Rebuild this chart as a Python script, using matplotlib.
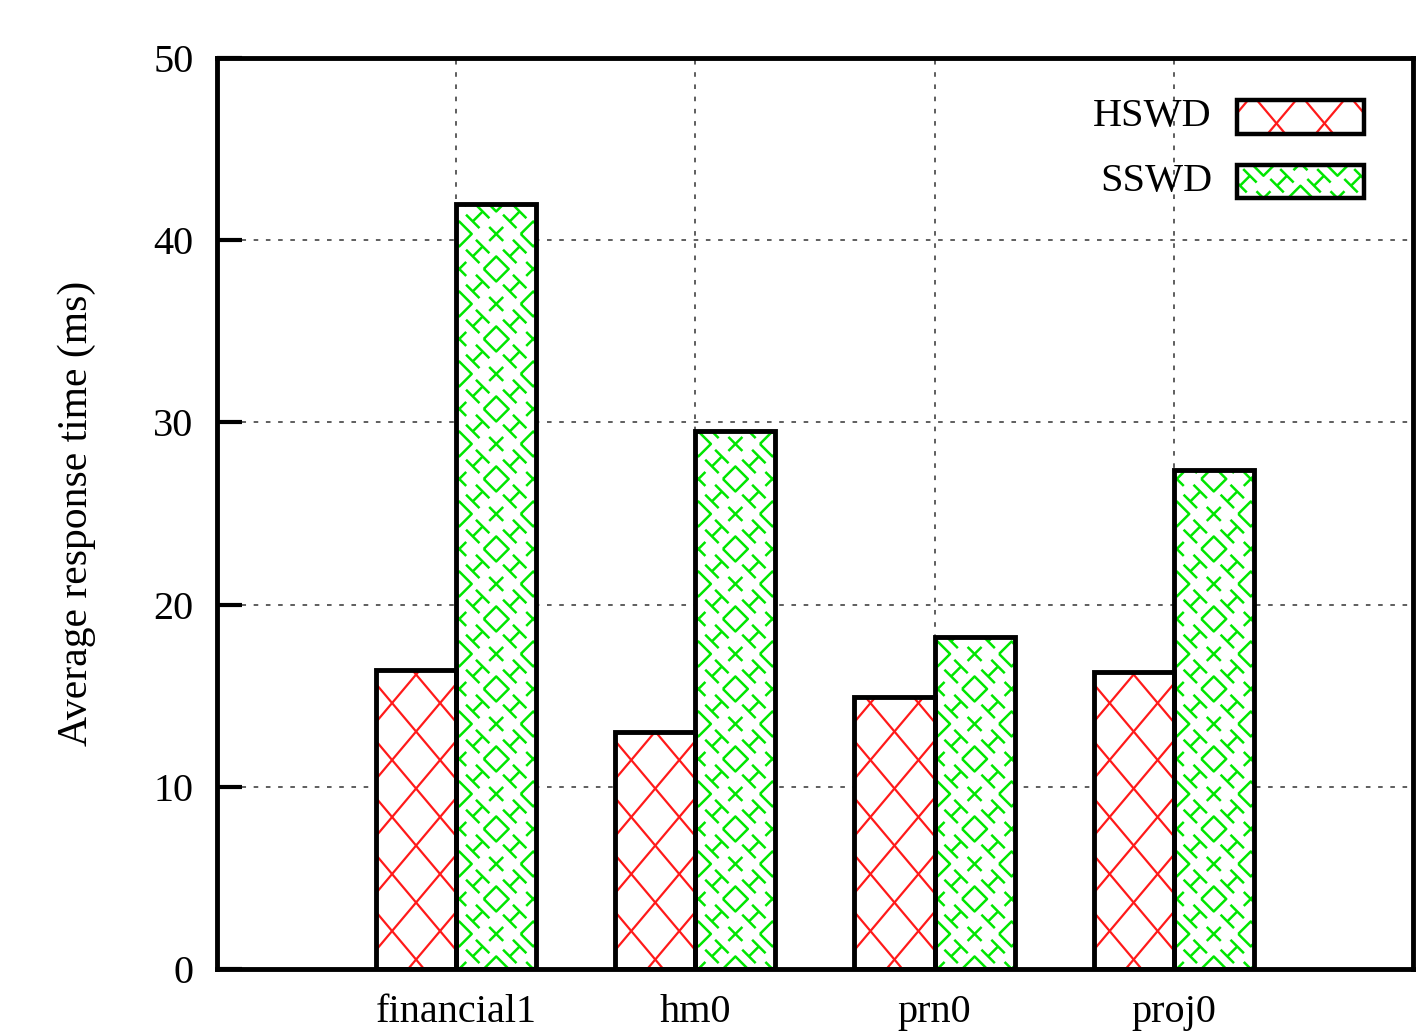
import numpy as np
import matplotlib
matplotlib.use('Agg')
import matplotlib.pyplot as plt
from matplotlib.collections import LineCollection
from matplotlib.patches import Rectangle
from matplotlib.transforms import IdentityTransform

plt.rcParams['font.family'] = ['Liberation Serif', 'DejaVu Serif']

traces = ['financial1', 'hm0', 'prn0', 'proj0']
hswd = [16.4, 13.0, 14.9, 16.3]
sswd = [42.0, 29.5, 18.2, 27.4]
series_names = ['HSWD', 'SSWD']

RED = '#ff1a1a'
GREEN = '#00e600'


def cross_segments(x0, y0, x1, y1, px=48.0, py=57.0):
    # red crosshatch: two families of slanted lines over a pixel box
    s = py / px
    w = x1 - x0
    h = y1 - y0
    segs = []
    for c in np.arange(-s * w - py, h + py, py):
        segs.append([(x0, y0 + c), (x1, y0 + c + s * w)])
    for c in np.arange(-py, h + s * w + py, py):
        segs.append([(x0, y0 + c), (x1, y0 + c - s * w)])
    return segs


def motif_segments(x0, y0, x1, y1, cx, a=18.5, b=17.5):
    # green pattern: diamonds, small crosses and slanted H shapes on a lattice
    r, q = 12.5, 7.0
    u = np.array([1.0, -1.0]) / np.sqrt(2)
    v = np.array([1.0, 1.0]) / np.sqrt(2)
    segs = []
    for i in range(int(np.floor((x0 - cx) / a)) - 2, int(np.ceil((x1 - cx) / a)) + 3):
        for j in range(-2, int(np.ceil((y1 - y0) / b)) + 3):
            x, y = cx + i * a, y0 + j * b
            if i % 2 == 0 and j % 2 == 0:
                if (i // 2 + j // 2) % 2 == 0:
                    segs.append([(x - r, y), (x, y + r), (x + r, y), (x, y - r), (x - r, y)])
                else:
                    segs.append([(x - q, y - q), (x + q, y + q)])
                    segs.append([(x - q, y + q), (x + q, y - q)])
            elif i % 2 == 1 and j % 2 == 1:
                c = np.array([x, y])
                segs.append([c - 7 * v, c + 7 * v])
                for k in (-7, 7):
                    m = c + k * v
                    segs.append([m - 9.5 * u, m + 9.5 * u])
    return segs


def add_pattern(ax, patch, kind):
    bb = patch.get_window_extent()
    if kind == 'cross':
        segs = cross_segments(bb.x0, bb.y0, bb.x1, bb.y1)
        color, lw = RED, 1.6
    else:
        segs = motif_segments(bb.x0, bb.y0, bb.x1, bb.y1, (bb.x0 + bb.x1) / 2)
        color, lw = GREEN, 1.8
    lc = LineCollection(segs, colors=color, linewidths=lw,
                        transform=IdentityTransform(), zorder=2.5)
    ax.add_collection(lc, autolim=False)
    lc.set_clip_path(patch)


fig = plt.figure(figsize=(14.18, 10.33), dpi=100)
ax = fig.add_axes([0.1530, 0.0620, 0.8434, 0.8819])
ax.set_xlim(-1, 4)
ax.set_ylim(0, 50)

x = np.arange(len(traces))
w = 0.335

b1 = ax.bar(x - w, hswd, w, align='edge', color='white', edgecolor='none', zorder=2)
b2 = ax.bar(x, sswd, w, align='edge', color='white', edgecolor='none', zorder=2)
for p in b1:
    add_pattern(ax, p, 'cross')
for p in b2:
    add_pattern(ax, p, 'motif')
ax.bar(x - w, hswd, w, align='edge', fill=False, edgecolor='black', linewidth=3.5, zorder=3)
ax.bar(x, sswd, w, align='edge', fill=False, edgecolor='black', linewidth=3.5, zorder=3)

ax.set_xticks(x)
ax.set_xticklabels(traces)
ax.set_yticks(np.arange(0, 51, 10))
ax.tick_params(axis='x', length=0, pad=18, labelsize=29)
ax.tick_params(axis='y', direction='in', length=18, width=3, pad=17, labelsize=29)
ax.grid(True, color='#333333', linestyle=(0, (3, 5)), linewidth=1.1)
ax.set_axisbelow(True)
for sp in ax.spines.values():
    sp.set_linewidth(3.5)
    sp.set_zorder(5)

ax.set_ylabel('Average response time (ms)', fontsize=30)
ax.yaxis.set_label_coords(-0.101, 0.5)

# legend drawn by hand so the boxes carry the same patterns
leg = [(0.917, 0.954, 'cross'), (0.846, 0.883, 'motif')]
for name, (ylo, yhi, kind) in zip(series_names, leg):
    box = Rectangle((0.853, ylo), 0.106, yhi - ylo, transform=ax.transAxes,
                    facecolor='white', edgecolor='none', zorder=2)
    ax.add_patch(box)
    add_pattern(ax, box, kind)
    ax.add_patch(Rectangle((0.853, ylo), 0.106, yhi - ylo, transform=ax.transAxes,
                           fill=False, edgecolor='black', linewidth=3.2, zorder=3))
    ax.text(0.832, (ylo + yhi) / 2, name, transform=ax.transAxes,
            ha='right', va='center', fontsize=29)

fig.savefig('out.png', dpi=100)
